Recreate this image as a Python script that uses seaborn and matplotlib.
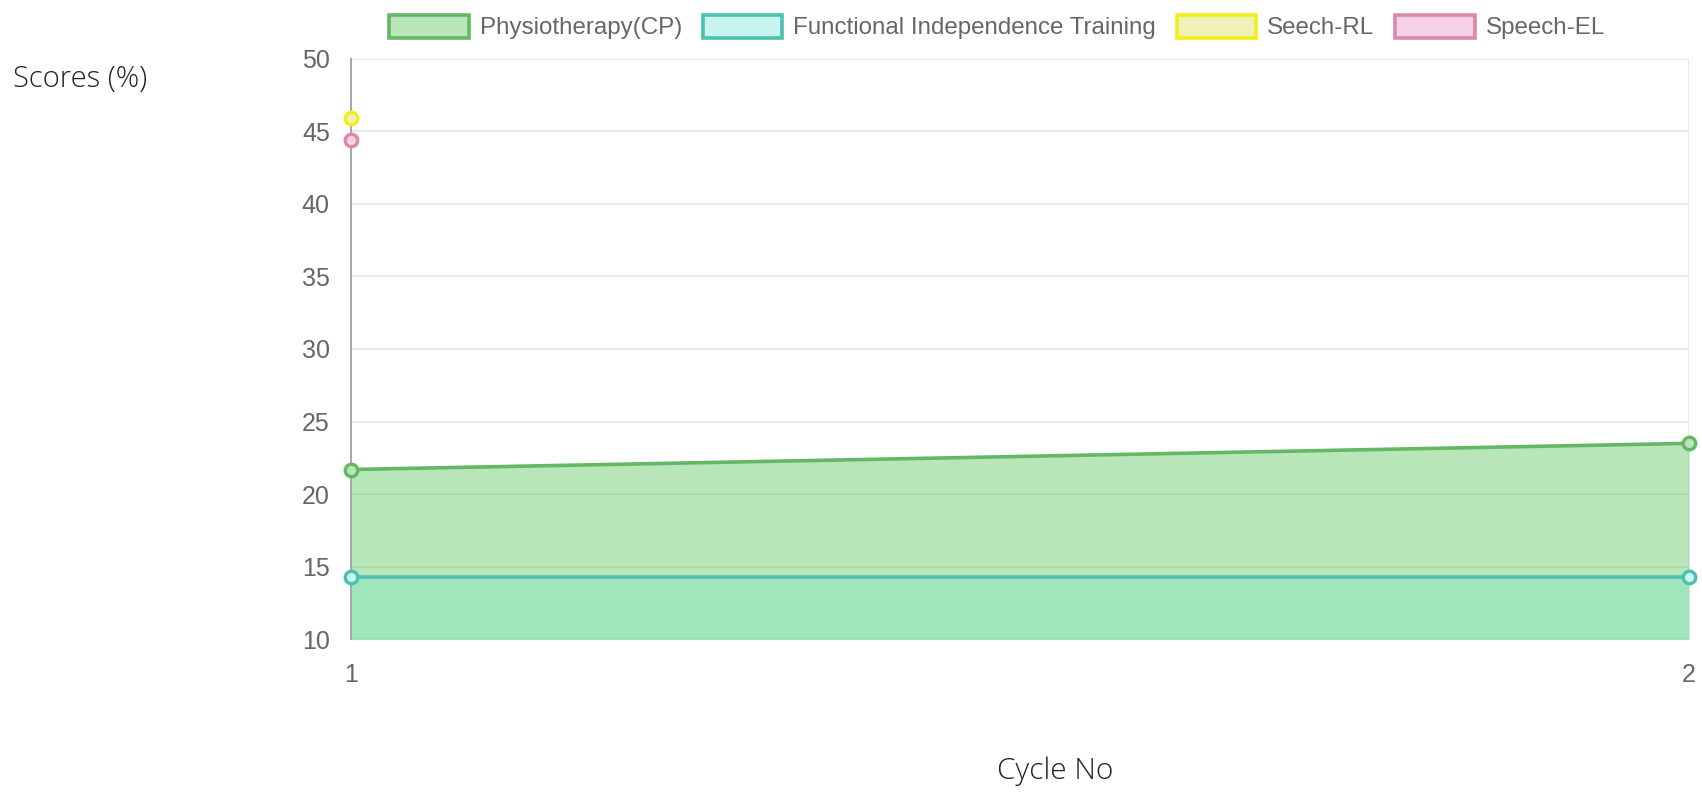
import matplotlib
matplotlib.use("Agg")
import matplotlib.pyplot as plt
import seaborn as sns
import pandas as pd
import numpy as np
from matplotlib.patches import Patch

# ---- data ----
cycles = [1, 2]
series_names = ["Physiotherapy(CP)", "Functional Independence Training", "Seech-RL", "Speech-EL"]
physio = [21.7, 23.5]
fit = [14.29, 14.29]
speech_rl = [45.9, np.nan]
speech_el = [44.4, np.nan]
y_ticks = [10, 15, 20, 25, 30, 35, 40, 45, 50]
x_ticks = [1, 2]

line_colors = ["#64b764", "#4cc2ae", "#f2ef1a", "#dc88a8"]
fill_colors = ["#b8e6b8", "#c8f5ef", "#eef2b6", "#f5d0e8"]

sns.set_theme(style="white")
plt.rcParams["font.family"] = ["Liberation Sans", "DejaVu Sans"]

df = pd.DataFrame({
    "Cycle": cycles * 4,
    "Score": physio + fit + speech_rl + speech_el,
    "Series": sum([[n] * len(cycles) for n in series_names], []),
})

fig = plt.figure(figsize=(17.02, 7.92), dpi=100)
ax = fig.add_axes([350.6 / 1702, 1 - 639.4 / 792, (1689 - 350.6) / 1702, (639.4 - 58.6) / 792])

# fills (to origin, clipped by axis)
ax.fill_between(cycles, 0, physio, color=(75/255, 192/255, 75/255), alpha=0.39, linewidth=0, zorder=1)
ax.fill_between(cycles, 0, fit, color=(102/255, 230/255, 200/255), alpha=0.30, linewidth=0, zorder=1.1)

palette = dict(zip(series_names, line_colors))
sns.lineplot(data=df, x="Cycle", y="Score", hue="Series", palette=palette,
             linewidth=2.6, marker="o", markersize=9, markeredgewidth=2.4,
             ax=ax, legend=False, zorder=3)
for line, fc, lc in zip(ax.lines, fill_colors, line_colors):
    line.set_markerfacecolor(fc)
    line.set_markeredgecolor(lc)
    line.set_clip_on(False)

ax.set_xlim(1, 2)
ax.set_ylim(10, 50)
ax.set_xticks(x_ticks)
ax.set_yticks(y_ticks)
ax.set_xticklabels([str(v) for v in x_ticks])
ax.set_yticklabels([str(v) for v in y_ticks])
ax.grid(True, axis="y", color="#e6e6e6", linewidth=1.2, zorder=0)
ax.grid(True, axis="x", color="#e6e6e6", linewidth=1.2, zorder=0)
ax.set_axisbelow(True)
for s in ["top", "right", "bottom"]:
    ax.spines[s].set_visible(False)
ax.spines["left"].set_color("#a0a0a0")
ax.spines["left"].set_linewidth(1.3)
ax.tick_params(axis="y", length=13, width=1.2, color="#e6e6e6", pad=2,
               labelsize=18, labelcolor="#666666")
ax.tick_params(axis="x", length=14, width=1.2, color="#c8c8c8", pad=3,
               labelsize=18, labelcolor="#666666")
ax.set_xlabel("")
ax.set_ylabel("")

# legend
handles = [Patch(facecolor=fc, edgecolor=lc, linewidth=2.6) for fc, lc in zip(fill_colors, line_colors)]
leg = fig.legend(handles, series_names, loc="center", bbox_to_anchor=(997 / 1702, 1 - 27 / 792),
                 ncol=4, frameon=False, fontsize=17.4, handlelength=3.3, handleheight=1.1,
                 handletextpad=0.45, columnspacing=0.85, labelcolor="#666666")

fig.text(13 / 1702, 1 - 79 / 792, "Scores (%)", ha="left", va="center", fontsize=21,
         family=["Open Sans", "DejaVu Sans"], weight="light", color="#222222")
fig.text(1055 / 1702, 1 - 771 / 792, "Cycle No", ha="center", va="center", fontsize=21.5,
         family=["Open Sans", "DejaVu Sans"], weight="light", color="#222222")

fig.savefig("out.png", dpi=100)
